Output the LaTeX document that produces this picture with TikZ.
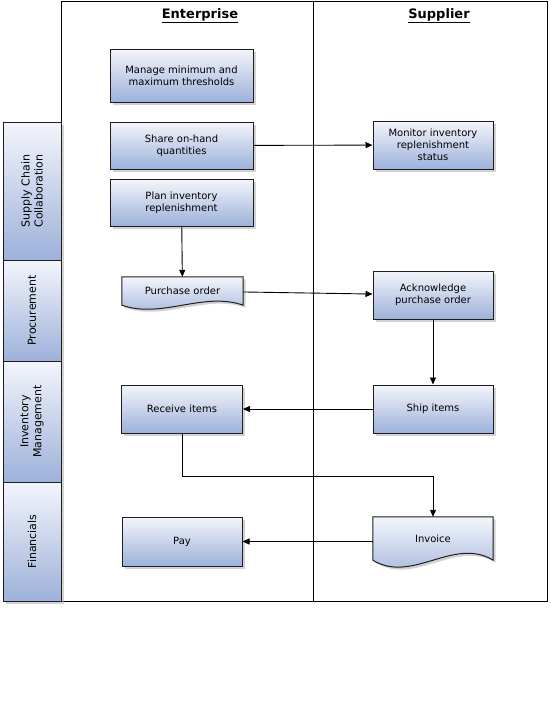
\documentclass[tikz,border=0pt]{standalone}
\usepackage{fontspec}
\setmainfont{DejaVu Sans}
\usetikzlibrary{arrows.meta,shadows,calc,backgrounds}
\definecolor{boxtop}{HTML}{F3F5FB}
\definecolor{boxbot}{HTML}{9DB1DA}
\definecolor{edge}{HTML}{1E1E1E}

\tikzset{
  shadowed/.style={drop shadow={shadow xshift=2.5pt,shadow yshift=-2.5pt,fill=black!35,opacity=.5}},
  task/.style={draw=edge,line width=1pt,top color=boxtop,bottom color=boxbot,shadowed,
    minimum width=120pt,minimum height=48pt,align=center,inner sep=2pt,
    font=\fontsize{10}{12.2}\selectfont},
  docnode/.style={minimum width=120pt,align=center,inner sep=2pt,
    font=\fontsize{10}{12.2}\selectfont},
  docshade/.style={draw=edge,line width=1pt,top color=boxtop,bottom color=boxbot,shadowed},
  lane/.style={draw=edge,line width=1pt,top color=boxtop,bottom color=boxbot,shadowed,
    minimum width=58pt},
  lanetext/.style={rotate=90,align=center,font=\fontsize{11}{13}\selectfont},
  title/.style={font=\fontsize{13}{15}\selectfont\bfseries},
  flow/.style={line width=.9pt,-{Triangle[length=7pt,width=6pt]}}
}

% wavy bottom of a document box
\newcommand{\docoutline}[2]{%
  \path[docshade] (#1.north west) -- (#1.north east) -- (#1.south east)
    .. controls ($(#1.south east)!0.33!(#1.south west)+(0,-#2)$)
    and ($(#1.south east)!0.67!(#1.south west)+(0,#2)$) .. (#1.south west) -- cycle;}

\begin{document}
\begin{tikzpicture}[x=1pt,y=-1pt]
  \useasboundingbox (0,0) rectangle (551,726);
  % pools
  \draw[line width=1pt] (61,1) rectangle (547,601);
  \draw[line width=1pt] (313,1) -- (313,601);
  \node[title] (ent) at (200,16) {\underline{Enterprise}};
  \node[title] (sup) at (439,16) {\underline{Supplier}};
  % lanes
  \node[lane,minimum height=138pt] (scc) at (32,191) {};
  \node[lane,minimum height=101pt] (proc) at (32,310.5) {};
  \node[lane,minimum height=121pt] (inv) at (32,421.5) {};
  \node[lane,minimum height=119pt] (fin) at (32,541.5) {};
  \node[lanetext] (scct) at (scc) {Supply Chain\\Collaboration};
  \node[lanetext] (proct) at (proc) {Procurement};
  \node[lanetext] (invt) at (inv) {Inventory\\Management};
  \node[lanetext] (fint) at (fin) {Financials};
  % enterprise tasks
  \node[task,minimum width=143pt,minimum height=53pt] (mng) at (181.5,75.5) {Manage minimum and\\maximum thresholds};
  \node[task,minimum width=143pt,minimum height=47pt] (share) at (181.5,145.5) {Share on-hand\\quantities};
  \node[task,minimum width=143pt,minimum height=47pt] (plan) at (181.5,202.5) {Plan inventory\\replenishment};
  \node[docnode,minimum width=121pt,minimum height=28pt] (po) at (182.5,291) {Purchase order};
  \node[task,minimum width=121pt] (rcv) at (182,409) {Receive items};
  \node[task,minimum width=120pt,minimum height=49pt] (pay) at (182,541.5) {Pay};
  % supplier tasks
  \node[task] (mon) at (433,145) {Monitor inventory\\replenishment\\status};
  \node[task] (ack) at (433,295) {Acknowledge\\purchase order};
  \node[task] (ship) at (433,409) {Ship items};
  \node[docnode,minimum height=43pt] (invc) at (433,538.5) {Invoice};
  % documents
  \begin{scope}[on background layer]
    \docoutline{po}{14}
    \docoutline{invc}{24}
  \end{scope}
  % flows
  \draw[flow] (share) -- (mon);
  \draw[flow] (plan) -- (po);
  \draw[flow] (po) -- (ack);
  \draw[flow] (ack) -- (ship);
  \draw[flow] (ship) -- (rcv);
  \draw[flow] (rcv.south) -- ++(0,43) -| (invc.north);
  \draw[flow] (invc.west |- pay) -- (pay.east);
\end{tikzpicture}
\end{document}
